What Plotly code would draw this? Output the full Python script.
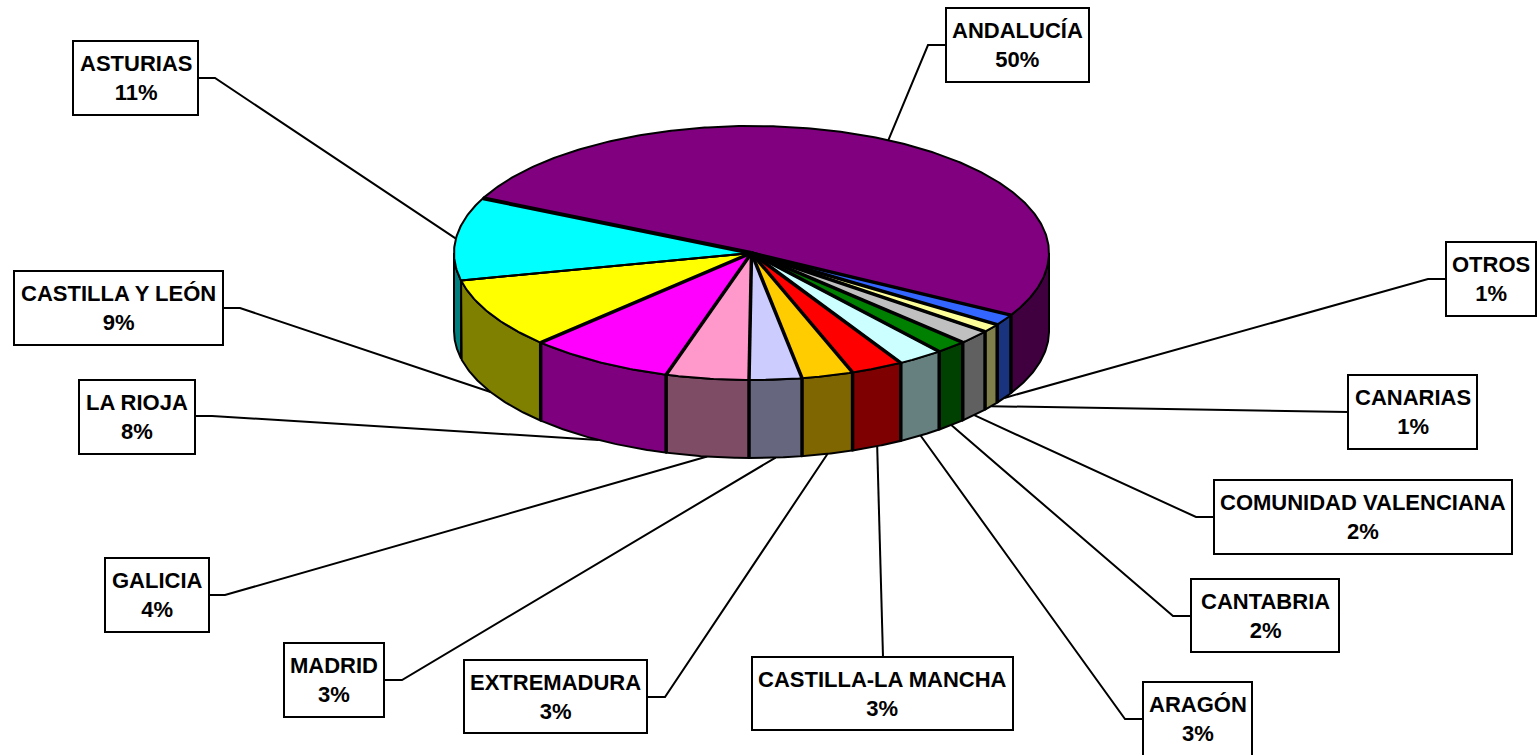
import numpy as np
import plotly.graph_objects as go

# Data (clockwise from the Andalucía slice)
categories = ["ANDALUCÍA", "OTROS", "CANARIAS", "COMUNIDAD VALENCIANA", "CANTABRIA", "ARAGÓN",
              "CASTILLA-LA MANCHA", "EXTREMADURA", "MADRID", "GALICIA", "LA RIOJA",
              "CASTILLA Y LEÓN", "ASTURIAS"]
shares = [51.05, 1.4, 1.1, 1.8, 1.7, 2.5, 2.85, 2.8, 2.85, 4.5, 7.9, 9.0, 10.55]
percent_labels = ["50%", "1%", "1%", "2%", "2%", "3%", "3%", "3%", "3%", "4%", "8%", "9%", "11%"]
colors = ["#800080", "#3366FF", "#FFFF99", "#C0C0C0", "#008000", "#CCFFFF", "#FF0000",
          "#FFCC00", "#CCCCFF", "#FF99CC", "#FF00FF", "#FFFF00", "#00FFFF"]

# Layout of the pie projection, in page pixels
CX, CY, RX, RY, DEPTH = 751.5, 253.0, 297.5, 127.0, 78.0
START_ANGLE = 295.5

# Label boxes: x0, y0, x1, y1; leader anchor on box; elbow
boxes = [(946, 8, 1089, 82), (1446, 242, 1536, 316), (1348, 375, 1477, 449), (1214, 480, 1512, 554),
         (1191, 579, 1339, 652), (1143, 682, 1252, 756), (752, 657, 1013, 730), (464, 660, 647, 733),
         (284, 643, 384, 717), (105, 558, 209, 632), (79, 380, 195, 454), (14, 271, 223, 345), (73, 41, 198, 115)]
anchors = [(946, 45), (1446, 279), (1348, 412), (1214, 517), (1191, 616), (1143, 719), (883, 657),
           (647, 697), (384, 680), (209, 595), (195, 416), (223, 308), (198, 78)]
elbows = [(928, 45), (1428, 279), (1330, 412), (1196, 517), (1173, 616), (1125, 719), (883, 640),
          (665, 697), (402, 680), (225, 595), (212, 416), (240, 308), (215, 78)]


def rim(theta_deg, drop=0.0):
    t = np.radians(theta_deg)
    return CX + RX * np.sin(t), CY - RY * np.cos(t) + drop


def darken(hex_color):
    r, g, b = (int(hex_color[i:i + 2], 16) // 2 for i in (1, 3, 5))
    return f"#{r:02X}{g:02X}{b:02X}"


edges = START_ANGLE + np.concatenate([[0], np.cumsum(shares)]) * 3.6
fig = go.Figure()


def poly(xs, ys, fill):
    fig.add_trace(go.Scatter(x=xs, y=ys, mode="lines", fill="toself", fillcolor=fill,
                             line=dict(color="black", width=2), hoverinfo="skip", showlegend=False))


def stroke(xs, ys, width):
    fig.add_trace(go.Scatter(x=xs, y=ys, mode="lines", line=dict(color="black", width=width),
                             hoverinfo="skip", showlegend=False))


# Leader lines go underneath the pie
for i, cat in enumerate(categories):
    m = ((edges[i] + edges[i + 1]) / 2) % 360
    px, py = rim(m, DEPTH if 90 < m < 270 else 0)
    stroke([px, elbows[i][0], anchors[i][0]], [py, elbows[i][1], anchors[i][1]], 2)

# Visible walls
for i, col in enumerate(colors):
    a0, a1 = edges[i], edges[i + 1]
    for shift in (-360, 0, 360):
        lo, hi = max(a0 + shift, 90), min(a1 + shift, 270)
        if hi > lo:
            th = np.linspace(lo, hi, 60)
            x1, y1 = rim(th)
            x2, y2 = rim(th[::-1], DEPTH)
            poly(list(x1) + list(x2) + [x1[0]], list(y1) + list(y2) + [y1[0]], darken(col))

# Top faces
for i, col in enumerate(colors):
    th = np.linspace(edges[i], edges[i + 1], max(6, int(shares[i] * 6)))
    x, y = rim(th)
    poly([CX] + list(x) + [CX], [CY] + list(y) + [CY], col)

# Heavier slice borders (doubled strokes in the original)
for i in range(len(categories)):
    a = edges[i] % 360
    w = 2 if categories[i] == "ASTURIAS" else 3.5
    x, y = rim(a)
    stroke([CX, x], [CY, y], 4 if categories[i] == "ANDALUCÍA" else w)
    if 90 < a < 270 and w > 2:
        xb, yb = rim(a, DEPTH)
        stroke([x, xb], [y, yb], w)

shapes = [dict(type="rect", x0=b[0], y0=b[1], x1=b[2], y1=b[3], fillcolor="white",
               line=dict(color="black", width=2), layer="above") for b in boxes]
annotations = [dict(x=(b[0] + b[2]) / 2, y=(b[1] + b[3]) / 2, xref="x", yref="y",
                    text=f"<b>{c}<br>{p}</b>", showarrow=False, align="center",
                    font=dict(family="Liberation Sans, Arial, sans-serif", size=22, color="black"))
               for b, c, p in zip(boxes, categories, percent_labels)]

fig.update_layout(width=1537, height=755, margin=dict(l=0, r=0, t=0, b=0),
                  paper_bgcolor="white", plot_bgcolor="white",
                  xaxis=dict(range=[0, 1537], visible=False, fixedrange=True),
                  yaxis=dict(range=[755, 0], visible=False, fixedrange=True),
                  shapes=shapes, annotations=annotations, showlegend=False)

fig.write_html("out.html", config={"displayModeBar": False},
               post_script="document.body.style.margin='0';document.body.style.overflow='hidden';")
